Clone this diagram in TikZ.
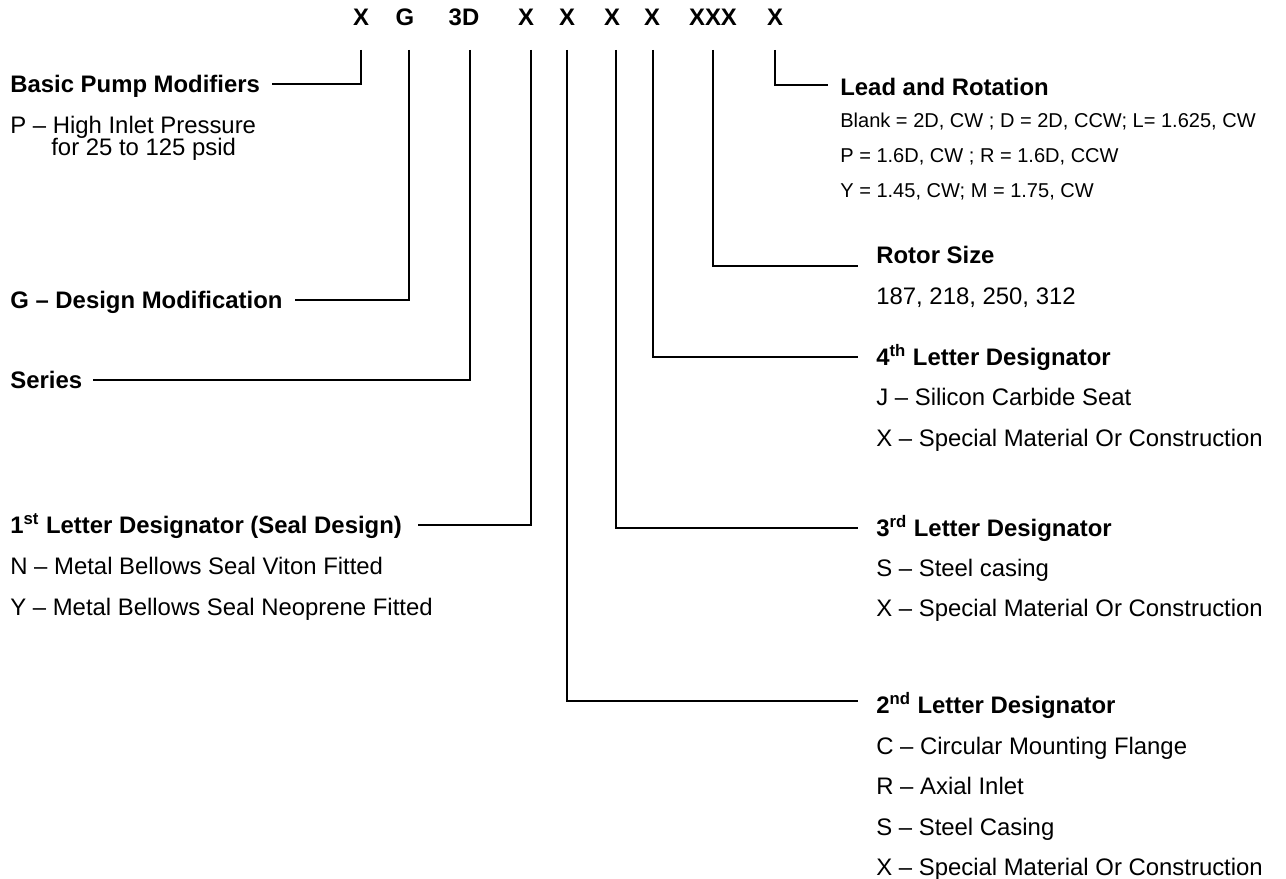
\documentclass[tikz,border=0pt]{standalone}
\usepackage{fontspec}
\setmainfont{Liberation Sans}
\usetikzlibrary{positioning}
\tikzset{
  code/.style={font=\fontsize{13.6}{16}\selectfont\bfseries, inner sep=0pt, text height=9.7pt, text depth=0pt},
  head/.style={font=\fontsize{13.6}{16}\selectfont\bfseries, inner sep=0pt, anchor=west, text height=9.7pt, text depth=0pt},
  item/.style={font=\fontsize{13.6}{16}\selectfont, inner sep=0pt, anchor=west, text height=9.7pt, text depth=0pt},
  note/.style={font=\fontsize{11.4}{13}\selectfont, inner sep=0pt, anchor=west, text height=8.2pt, text depth=0pt},
  conn/.style={draw, line width=0.8pt},
}
\begin{document}
\begin{tikzpicture}[x=0.02cm, y=-0.02cm]
		\useasboundingbox (0,0) rectangle (1286,879);
		% model code
		\node (c1) [code] at (361,17) {X};
		\node (c2) [code] at (405,17) {G};
		\node (c3) [code] at (464,17) {3D};
		\node (c4) [code] at (526,17) {X};
		\node (c5) [code] at (567,17) {X};
		\node (c6) [code] at (612,17) {X};
		\node (c7) [code] at (652,17) {X};
		\node (c8) [code] at (713,17) {XXX};
		\node (c9) [code] at (775,17) {X};
		% left side
		\node (bpm) [head] at (10,84) {Basic Pump Modifiers};
		\node (bpm1) [item, below=0.82cm of bpm.west, anchor=west] {P – High Inlet Pressure};
		\node (bpm2) [item, below=0.44cm of bpm1.west, anchor=west, xshift=0.82cm] {for 25 to 125 psid};
		\node (gdm) [head] at (10,300) {G – Design Modification};
		\node (ser) [head] at (10,380) {Series};
		\node (ld1) [head] at (10,525) {1\textsuperscript{st} Letter Designator (Seal Design)};
		\node (ld1a) [item, below=0.82cm of ld1.west, anchor=west] {N – Metal Bellows Seal Viton Fitted};
		\node (ld1b) [item, below=0.82cm of ld1a.west, anchor=west] {Y – Metal Bellows Seal Neoprene Fitted};
		% right side
		\node (lr) [head] at (840,87) {Lead and Rotation};
		\node (lr1) [note, below=0.66cm of lr.west, anchor=west] {Blank = 2D, CW ; D = 2D, CCW; L= 1.625, CW};
		\node (lr2) [note, below=0.7cm of lr1.west, anchor=west] {P = 1.6D, CW ; R = 1.6D, CCW};
		\node (lr3) [note, below=0.7cm of lr2.west, anchor=west] {Y = 1.45, CW; M = 1.75, CW};
		\node (rs) [head] at (876,255) {Rotor Size};
		\node (rs1) [item, below=0.82cm of rs.west, anchor=west] {187, 218, 250, 312};
		\node (ld4) [head] at (876,357) {4\textsuperscript{th} Letter Designator};
		\node (ld4a) [item, below=0.8cm of ld4.west, anchor=west] {J – Silicon Carbide Seat};
		\node (ld4b) [item, below=0.82cm of ld4a.west, anchor=west] {X – Special Material Or Construction};
		\node (ld3) [head] at (876,528) {3\textsuperscript{rd} Letter Designator};
		\node (ld3a) [item, below=0.8cm of ld3.west, anchor=west] {S – Steel casing};
		\node (ld3b) [item, below=0.8cm of ld3a.west, anchor=west] {X – Special Material Or Construction};
		\node (ld2) [head] at (876,705) {2\textsuperscript{nd} Letter Designator};
		\node (ld2a) [item, below=0.81cm of ld2.west, anchor=west] {C – Circular Mounting Flange};
		\node (ld2b) [item, below=0.81cm of ld2a.west, anchor=west] {R – Axial Inlet};
		\node (ld2c) [item, below=0.81cm of ld2b.west, anchor=west] {S – Steel Casing};
		\node (ld2d) [item, below=0.81cm of ld2c.west, anchor=west] {X – Special Material Or Construction};
		% leaders
		\draw[conn, shorten >=0.24cm] (c1.south) ++(0,24) |- (bpm.east);
		\draw[conn, shorten >=0.24cm] (c2.south) ++(4,24) |- (gdm.east);
		\draw[conn, shorten >=0.22cm] (c3.south) ++(6,24) |- (ser.east);
		\draw[conn, shorten >=0.32cm] (c4.south) ++(5,24) |- (ld1.east);
		\draw[conn, shorten >=0.36cm] (c5.south) ++(0,24) |- ([yshift=0.08cm]ld2.west);
		\draw[conn, shorten >=0.36cm] (c6.south) ++(4,24) |- (ld3.west);
		\draw[conn, shorten >=0.36cm] (c7.south) ++(1,24) |- (ld4.west);
		\draw[conn, shorten >=0.36cm] (c8.south) ++(0,24) |- ([yshift=-0.22cm]rs.west);
		\draw[conn, shorten >=0.24cm] (c9.south) ++(0,24) |- ([yshift=0.04cm]lr.west);
\end{tikzpicture}
\end{document}
